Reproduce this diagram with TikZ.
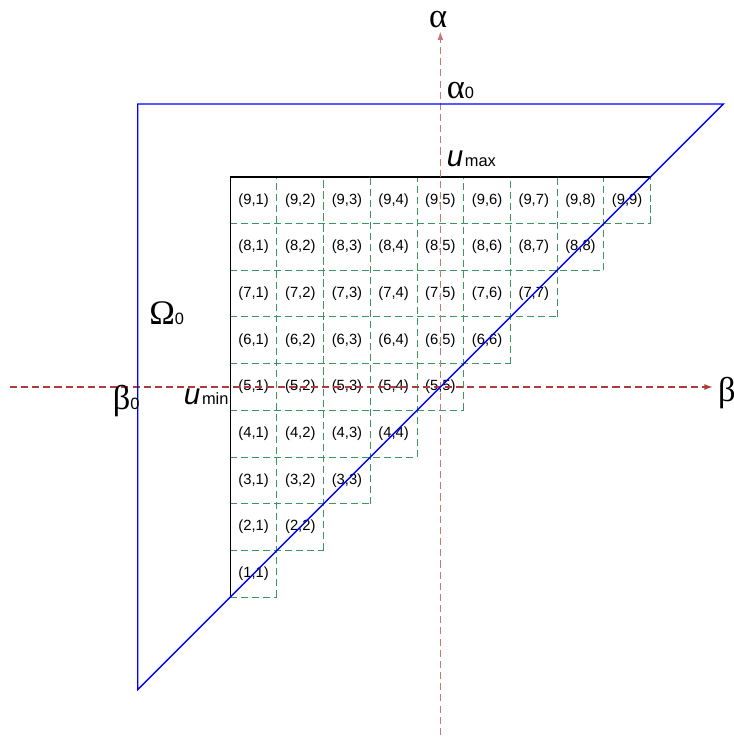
\documentclass[tikz,border=0pt]{standalone}
\usepackage{fontspec}
\setmainfont{Liberation Sans}
\newfontfamily\greekfont{Liberation Serif}
\usepackage{xcolor}
\usetikzlibrary{arrows.meta}

\definecolor{gridgreen}{RGB}{60,150,95}
\definecolor{axisred}{RGB}{175,60,60}
\newcommand{\smalltxt}[1]{{\normalfont\fontsize{10}{11}\selectfont #1}}

\begin{document}
\begin{tikzpicture}[
    axis/.style={axisred, line width=0.7pt, dash pattern=on 4.3pt off 2.5pt, -{Latex[length=5pt,width=3.6pt]}},
    border/.style={blue, line width=0.9pt},
    cell/.style={minimum size=1cm, inner sep=0pt, outer sep=0pt, font=\fontsize{9}{10}\selectfont},
    gridline/.style={gridgreen, line width=0.6pt, dash pattern=on 4.3pt off 2.4pt},
    greek/.style={inner sep=0pt, font=\fontsize{21}{24}\greekfont},
    ulabel/.style={inner sep=0pt, font=\fontsize{18}{20}\selectfont}
  ]
        \useasboundingbox (-9.43,-7.516) rectangle (6.285,8.287);

        % cells (i,j), j <= i
        \foreach \i in {1,...,9} {
          \foreach \j in {1,...,\i} {
            \node[cell] (c\i\j) at (\j-5, \i-5) {(\i,\j)};
          }
        }
        \foreach \i in {1,...,9} {
          \draw[gridline] (c\i1.south west) -- (c\i\i.south east);
          \draw[gridline] (c\i\i.south east) -- (c9\i.north east);
        }
        \draw[black, line width=0.8pt] (c99.north east) -- (c91.north west) -- (c11.south west);

        % axes
        \coordinate (xl) at (-9.22, 0);
        \coordinate (xr) at (5.83, 0);
        \coordinate (yb) at (0, -7.45);
        \coordinate (yt) at (0, 7.61);
        \draw[axis] (xl) -- (xr);
        \draw[axis, axisred!70] (yb) -- (yt);

        % domain
        \coordinate (t1) at (-6.48, 6.06);
        \coordinate (t2) at (6.06, 6.06);
        \coordinate (t3) at (-6.48, -6.48);
        \draw[border] (t1) -- (t2) -- (t3) -- cycle;

        \node[greek] (alpha) at (-0.05, 7.86) {α};
        \node[greek, anchor=west] (beta) at (5.94, -0.13) {β};
        \node[greek, anchor=base west] (alpha0) at (0.13, 6.18) {α\smalltxt{0}};
        \node[greek, anchor=base west] (omega0) at (-6.24, 1.33) {Ω\smalltxt{0}};
        \node[greek, anchor=base west] (beta0) at (-7.02, -0.49) {β\smalltxt{0}};
        \node[ulabel, anchor=base west] (umax) at (0.13, 4.72) {\textit{u}\kern1pt\smalltxt{max}};
        \node[ulabel, anchor=base east] (umin) at (-4.53, -0.385) {\textit{u}\kern1pt\smalltxt{min}};
      \end{tikzpicture}
\end{document}
